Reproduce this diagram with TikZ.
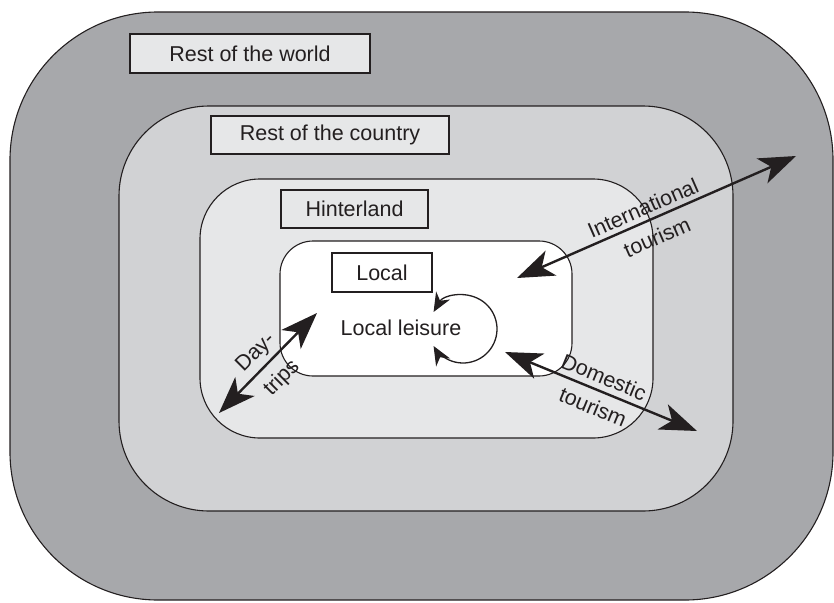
\documentclass[tikz,border=0pt]{standalone}
\usepackage{fontspec}
\setmainfont{Liberation Sans}
\usetikzlibrary{arrows.meta}
\definecolor{worldgray}{HTML}{A7A8AB}
\definecolor{countrygray}{HTML}{D1D2D4}
\definecolor{hintergray}{HTML}{E6E7E8}
\definecolor{ink}{HTML}{231F20}

\begin{document}
\begin{tikzpicture}[x=1pt,y=-1pt,
  zone/.style={draw=ink, line width=1.1pt, inner sep=0pt},
  labelbox/.style={draw=ink, line width=1.1pt, inner sep=0pt, text=ink,
    font=\fontsize{21.5}{25}\selectfont},
  txt/.style={font=\fontsize{21.5}{25}\selectfont, inner sep=0pt, text=ink},
  tripflow/.style={line width=2.4pt, draw=ink, {Stealth[length=37pt,width=27pt,inset=10pt]}-{Stealth[length=37pt,width=27pt,inset=10pt]}},
  cyclearrow/.style={line width=1.3pt, draw=ink, {Stealth[length=19pt,width=16pt,inset=6pt]}-{Stealth[length=19pt,width=16pt,inset=6pt]}}]

\useasboundingbox (0,0) rectangle (834,602);
\clip (0,0) rectangle (834,602);

% nested zones
\node[zone, fill=worldgray, minimum width=823pt, minimum height=588pt,
      rounded corners=148pt] (world) at (421.5,306) {};
\node[zone, fill=countrygray, minimum width=614pt, minimum height=405pt,
      rounded corners=90pt] (country) at (426,308.5) {};
\node[zone, fill=hintergray, minimum width=453pt, minimum height=259pt,
      rounded corners=60pt] (hinter) at (426.5,308.5) {};
\node[zone, fill=white, minimum width=292pt, minimum height=135pt,
      rounded corners=33pt] (local) at (426,308.5) {};

% zone labels
\node[labelbox, fill=hintergray, minimum width=240pt, minimum height=39pt]
  (worldlbl) at (250,53.5) {Rest of the world};
\node[labelbox, fill=hintergray, minimum width=238pt, minimum height=38pt]
  (countrylbl) at (330,135) {Rest of the country};
\node[labelbox, fill=hintergray, minimum width=147pt, minimum height=38pt]
  (hinterlbl) at (354.5,209) {Hinterland};
\node[labelbox, fill=white, minimum width=100pt, minimum height=39pt]
  (locallbl) at (382,272.5) {Local};

% local leisure loop
\node[txt] (leisure) at (401,328) {Local leisure};
\coordinate (loopc) at (463,329);
\draw[cyclearrow] (loopc) ++(-150:34) arc[start angle=-150, end angle=150, radius=34];

% flows
\coordinate (dayA) at (219,413);
\coordinate (dayB) at (317,313);
\coordinate (intA) at (517,278);
\coordinate (intB) at (796,156);
\coordinate (domA) at (505,352);
\coordinate (domB) at (697,431);
\draw[tripflow] (dayA) -- (dayB);
\draw[tripflow] (intA) -- (intB);
\draw[tripflow] (domA) -- (domB);

% flow labels
\node[txt, rotate=45] (daylbl) at (256,353) {Day-};
\node[txt, rotate=45] (tripslbl) at (282,378) {trips};
\node[txt, rotate=23.6] (intlbl) at (643,208) {International};
\node[txt, rotate=23.6] (inttour) at (657,237) {tourism};
\node[txt, rotate=-22.4] (domlbl) at (604,377) {Domestic};
\node[txt, rotate=-22.4] (domtour) at (593,407) {tourism};
\end{tikzpicture}
\end{document}
